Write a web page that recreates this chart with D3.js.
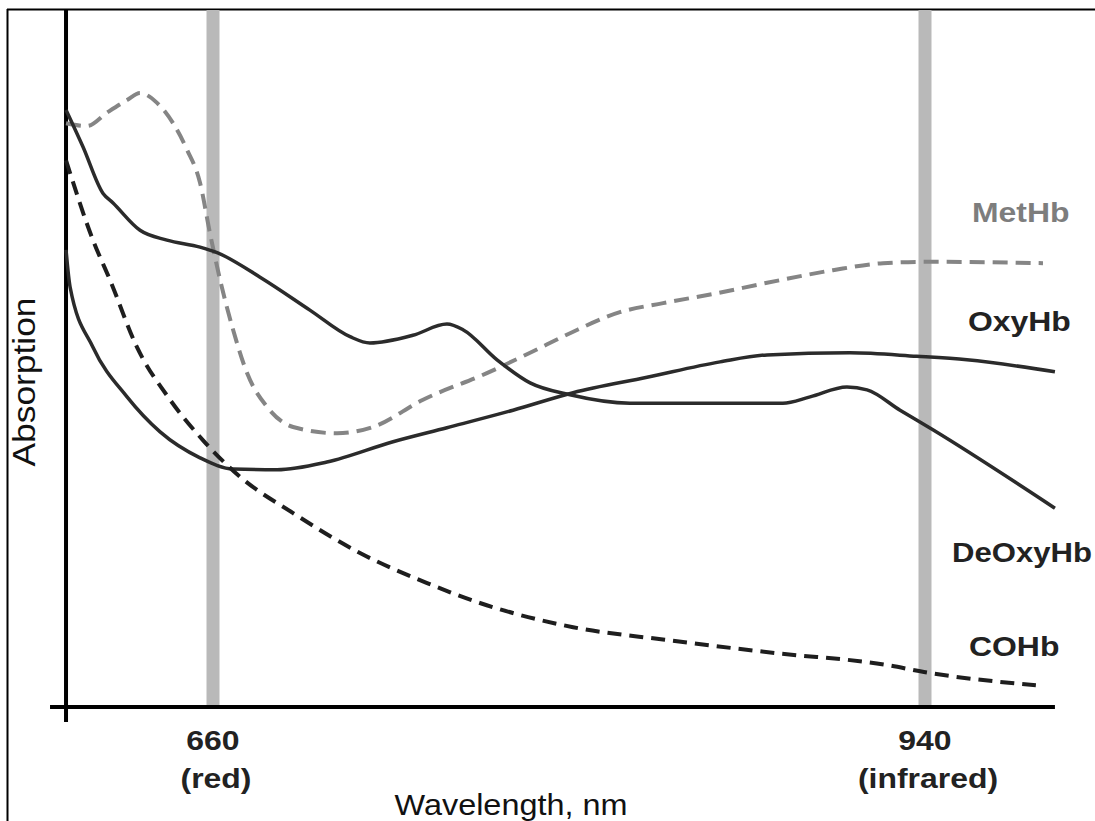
<!DOCTYPE html>
<html>
<head>
<meta charset="utf-8">
<script src="https://cdn.jsdelivr.net/npm/d3@7.9.0/dist/d3.min.js"></script>
<style>
  body { margin: 0; background: #fff; }
  svg { display: block; font-family: "Liberation Sans", Arial, sans-serif; }
</style>
</head>
<body>
<svg width="1095" height="821"></svg>
<script>
// wavelength (nm) vs relative absorption
const metHb = [
  [602.2, 83.4], [610.5, 83.0], [618.3, 84.9], [626.2, 86.7], [631.3, 87.7],
  [638.0, 86.3], [644.3, 83.4], [649.8, 79.6], [654.9, 74.9], [658.8, 67.7],
  [662.8, 61.0], [667.9, 53.9], [673.4, 47.7], [681.2, 42.9], [691.5, 40.0],
  [708.8, 39.1], [722.9, 40.0], [742.6, 43.9], [767.7, 47.7], [784.7, 50.6],
  [800.4, 53.4], [820.0, 56.4], [837.0, 57.7], [856.6, 59.0], [877.9, 60.6],
  [903.8, 62.4], [923.5, 63.4], [940.8, 63.6], [986.4, 63.4]
];
const oxyHb = [
  [602.2, 65.3], [603.8, 60.0], [612.8, 51.4], [626.2, 44.3], [639.2, 39.3],
  [654.9, 35.6], [667.9, 34.0], [685.2, 33.9], [704.8, 35.0], [730.8, 37.9],
  [752.0, 39.9], [778.0, 42.4], [801.6, 44.9], [830.7, 47.1], [859.4, 49.3],
  [877.9, 50.3], [910.5, 50.6], [936.8, 50.1], [956.5, 49.6], [991.1, 47.9]
];
const deOxyHb = [
  [602.2, 85.3], [608.9, 80.0], [616.7, 73.4], [620.7, 72.0], [631.3, 68.1],
  [641.9, 66.7], [654.9, 65.7], [661.6, 64.9], [678.5, 61.4], [698.1, 56.7],
  [713.9, 52.9], [721.7, 52.0], [738.6, 53.1], [752.0, 54.7], [758.3, 53.9],
  [771.7, 49.6], [784.7, 46.3], [800.4, 44.6], [824.0, 43.4], [859.4, 43.4],
  [884.1, 43.4], [894.8, 44.3], [909.3, 45.7], [917.2, 45.3], [930.2, 42.4],
  [943.1, 39.6], [991.1, 28.4]
];
const coHb = [
  [602.2, 78.1], [612.8, 66.7], [619.5, 61.0], [630.1, 51.4], [643.1, 43.9],
  [656.1, 38.1], [670.6, 32.9], [691.5, 27.7], [717.8, 22.0], [744.2, 17.7],
  [763.8, 15.0], [801.6, 11.4], [837.7, 9.6], [881.4, 7.7], [925.0, 6.0],
  [939.6, 5.0], [983.6, 3.1]
];

const bandWavelengths = [660, 940];
const tickNumbers = ['660', '940'];
const tickNames = ['(red)', '(infrared)'];

const svg = d3.select('svg');

const x = d3.scaleLinear().domain([660, 940]).range([213, 925]);
const y = d3.scaleLinear().domain([0, 100]).range([707, 7]);
const xMin = 602.2, xMax = 991.1;

// outer frame (top and left edges only visible)
svg.append('line').attr('x1', 7).attr('x2', 1095).attr('y1', 9.5).attr('y2', 9.5)
  .attr('stroke', '#000').attr('stroke-width', 2);
svg.append('line').attr('x1', 7.5).attr('x2', 7.5).attr('y1', 9).attr('y2', 821)
  .attr('stroke', '#000').attr('stroke-width', 2);

// LED wavelength bands
svg.selectAll('rect.band')
  .data(bandWavelengths)
  .join('rect')
  .attr('class', 'band')
  .attr('x', d => x(d) - 6.5)
  .attr('width', 13)
  .attr('y', 10)
  .attr('height', y(0) - 10)
  .attr('fill', '#b9b9b9');

// axes
svg.append('line')
  .attr('x1', x(xMin)).attr('x2', x(xMin))
  .attr('y1', 10).attr('y2', 722)
  .attr('stroke', '#000').attr('stroke-width', 4);
svg.append('line')
  .attr('x1', x(xMin) - 16).attr('x2', x(xMax))
  .attr('y1', y(0)).attr('y2', y(0))
  .attr('stroke', '#000').attr('stroke-width', 4);

// curves
const line = d3.line()
  .x(d => x(d[0]))
  .y(d => y(d[1]))
  .curve(d3.curveMonotoneX);

const series = [
  { data: metHb, color: '#858585', dash: '15,8', width: 4 },
  { data: oxyHb, color: '#2b2b2b', dash: null, width: 3.5 },
  { data: deOxyHb, color: '#2b2b2b', dash: null, width: 3.5 },
  { data: coHb, color: '#1e1e1e', dash: '14,8', width: 4 }
];

series.forEach(s => {
  svg.append('path')
    .attr('d', line(s.data))
    .attr('fill', 'none')
    .attr('stroke', s.color)
    .attr('stroke-width', s.width)
    .attr('stroke-dasharray', s.dash);
});

// helper for the slightly wide lettering of the original
function label(tx, ty, text, opts) {
  const g = svg.append('g').attr('transform', `translate(${tx},${ty}) scale(${opts.sx || 1.14},1)`);
  g.append('text')
    .attr('text-anchor', opts.anchor || 'start')
    .attr('font-size', opts.size || 28)
    .attr('font-weight', opts.weight || 'bold')
    .attr('fill', opts.color || '#222')
    .text(text);
  return g;
}

// tick labels
bandWavelengths.forEach((w, i) => {
  label(x(w), 750, tickNumbers[i], { anchor: 'middle' });
  label(x(w) + 3, 788, tickNames[i], { anchor: 'middle' });
});

// series labels
label(972, 222, 'MetHb', { color: '#7d7d7d' });
label(968, 331, 'OxyHb', {});
label(952, 562, 'DeOxyHb', { sx: 1.11 });
label(969, 656, 'COHb', {});

// axis titles
label(511, 815, 'Wavelength, nm', { anchor: 'middle', size: 30, weight: 'normal', color: '#111', sx: 1.08 });
svg.append('text')
  .attr('transform', 'translate(35,382) rotate(-90) scale(1.14,1)')
  .attr('text-anchor', 'middle')
  .attr('font-size', 31)
  .attr('fill', '#111')
  .text('Absorption');
</script>
</body>
</html>
